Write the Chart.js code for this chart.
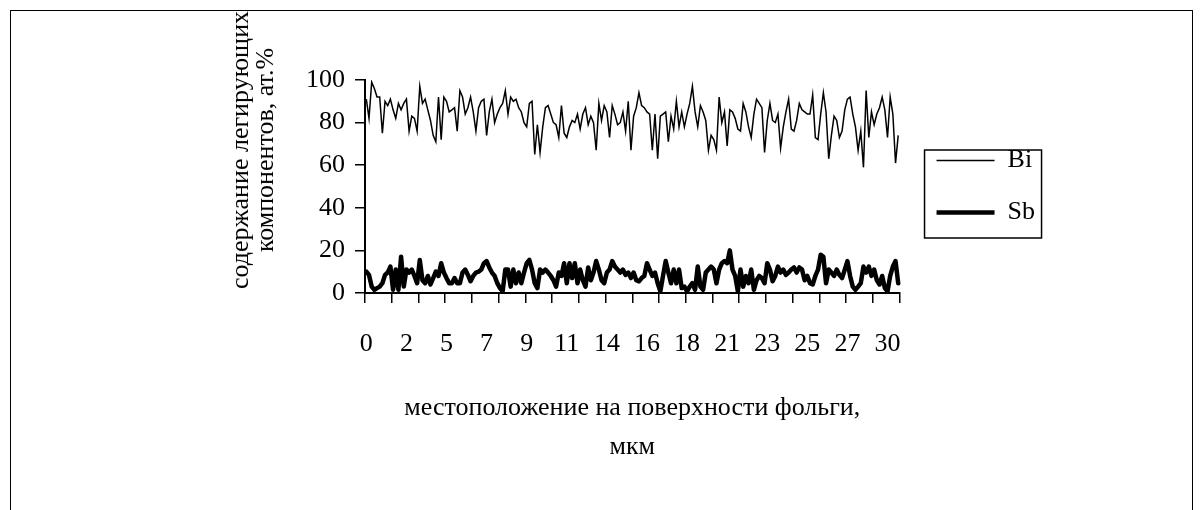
<!DOCTYPE html>
<html>
<head>
<meta charset="utf-8">
<script src="https://cdn.jsdelivr.net/npm/chart.js@4.4.1/dist/chart.umd.min.js"></script>
<style>
  html, body { margin: 0; padding: 0; background: #fff; overflow: hidden; }
  #wrap { position: relative; width: 1203px; height: 510px; }
  #frame { position: absolute; left: 10px; top: 10px; width: 1181px; height: 560px; border: 1px solid #000; }
  #ytitle {
    position: absolute; left: 251.5px; top: 150px;
    transform: translate(-50%, -50%) rotate(-90deg);
    white-space: nowrap; text-align: center;
    font: 26px/25px "Liberation Serif", "Times New Roman", serif; color: #000;
  }
  canvas { position: absolute; left: 0; top: 0; }
</style>
</head>
<body>
<div id="wrap">
  <div id="frame"></div>
  <canvas id="chart" width="1203" height="510"></canvas>
  <div id="ytitle">содержание легирующих<br>компонентов, ат.%</div>
</div>
<script>
// Bi and Sb content along the foil (at.%)
const bi = [91,82,99,96,92,92,75,90,88,91,86,82,89,86,89,91,76,83,82,76,97,89,91,86,81,74,71,92,72,92,90,85,86,87,76,95,92,84,87,92,
  85,76,87,90,91,74,85,91,80,84,87,89,95,84,92,90,91,87,85,80,78,89,90,65,79,66,78,87,88,84,80,79,73,88,75,73,78,81,80,84,77,84,87,79,83,80,
  67,89,81,88,85,73,88,84,79,80,85,76,90,67,83,87,94,88,87,85,84,67,84,63,83,84,85,71,83,77,90,78,85,78,84,89,97,85,78,88,85,81,67,74,72,67,92,80,85,69,86,85,82,77,
  76,89,85,78,73,84,91,89,87,66,81,89,81,80,84,68,78,85,91,77,76,81,89,86,85,84,84,93,73,72,84,94,85,63,74,83,81,73,76,86,91,92,84,78,67,76,59,95,73,85,79,84,87,92,86,73,92,84,61,74];

const sb = [10,8.5,3,1.5,2.3,3,4.6,8.5,9.6,12.4,1.5,11,1.5,17,3,11,9.6,11,8,4.6,15.5,6,4.6,8,4,7,10,8,14,9.6,7,4.6,4.6,7,4.6,4.6,9.6,11,8.5,5.5,8,9.6,10,11,
  14,15,12,9.6,8,4.6,2.3,0.8,11,11,3,11,4.6,9.6,4.6,9.6,14,15.5,11,4.6,2.3,11,9.6,11,9.6,8,6,3,9.6,8,14,4.6,14,7,14,4.6,11,6,3,12,6,9.6,15,11,6,4.6,9.6,11,
  15,12.4,11,9.6,11,8.5,9.6,7,9.6,6,5.5,7,8,14,11,8,9.6,4.6,0.8,8,15,9.6,4.6,11,4.6,11,2.3,3,0.8,3,4.6,1.5,12.4,3,1.5,9.6,11,12.4,11,4.6,11,14,15,14,20,11,8,0.8,11,
  3,8,4.6,11,1.5,6,8,7,4.6,14,11,5.5,8,12.4,9.6,11,8.5,9.6,11,12,9.6,12,11,6,8,4.6,4,8,11,18,17,4.6,11,9.6,8,11,8.5,7,11,15,8,3,1.5,3,4.6,12.4,9.6,12.4,8,11,6,4,8,2.3,0.8,8,12.4,15,4.6];

// x axis: one label every 15 points, one tick mark every 10 points
const tickLabels = ['0','2','5','7','9','11','14','16','18','21','23','25','27','30'];
const LABEL_EVERY = 15;
const TICK_EVERY = 10;
const categories = bi.map((_, i) => i);

const FONT = '"Liberation Serif", "Times New Roman", serif';
Chart.defaults.font.family = FONT;
Chart.defaults.font.size = 26;
Chart.defaults.color = '#000';

// frame around the legend
const legendBox = {
  id: 'legendBox',
  afterDraw(chart) {
    const hb = chart.legend.legendHitBoxes;
    if (!hb || !hb.length) return;
    const ctx = chart.ctx;
    ctx.save();
    ctx.strokeStyle = '#000';
    ctx.lineWidth = 1.5;
    ctx.strokeRect(hb[0].left - 12, hb[0].top + 2.5, 117, 88);
    ctx.restore();
  }
};

new Chart(document.getElementById('chart'), {
  type: 'line',
  data: {
    labels: categories,
    datasets: [
      { label: 'Bi', data: bi, borderColor: '#000', borderWidth: 1.5, pointRadius: 0, tension: 0 },
      { label: 'Sb', data: sb, borderColor: '#000', borderWidth: 4.5, pointRadius: 0, tension: 0,
        borderJoinStyle: 'round', borderCapStyle: 'round' }
    ]
  },
  options: {
    responsive: false,
    animation: false,
    layout: { padding: { left: 0, top: 80, right: 158, bottom: 43.5 } },
    plugins: {
      tooltip: { enabled: false },
      legend: {
        position: 'right',
        fullSize: false,
        labels: {
          usePointStyle: true,
          pointStyle: 'line',
          pointStyleWidth: 58,
          padding: 26,
          color: '#000',
          font: { size: 26, family: FONT }
        }
      }
    },
    scales: {
      x: {
        type: 'category',
        offset: true,
        border: { color: '#000', width: 2 },
        grid: {
          offset: true,
          drawOnChartArea: false,
          tickLength: 10,
          lineWidth: 1.5,
          color: c => (c.index === undefined || c.index % TICK_EVERY === 0) ? '#000' : 'rgba(0,0,0,0)'
        },
        ticks: {
          autoSkip: false,
          maxRotation: 0,
          minRotation: 0,
          padding: 26,
          callback: (v, i) => i % LABEL_EVERY === 0 ? tickLabels[i / LABEL_EVERY] : ''
        },
        title: {
          display: true,
          text: ['местоположение на поверхности фольги,', 'мкм'],
          font: { size: 26, family: FONT, lineHeight: 1.5 },
          padding: 0
        },
        afterFit: s => { s.height = 173.5; }
      },
      y: {
        min: 0,
        max: 100,
        border: { color: '#000', width: 2 },
        grid: { drawOnChartArea: false, tickLength: 10, lineWidth: 1.5, color: '#000' },
        ticks: { stepSize: 20, padding: 10 },
        afterFit: s => { s.width = 365; }
      },
      spacer: {
        type: 'linear',
        position: 'right',
        grid: { display: false },
        ticks: { display: false },
        border: { display: false },
        afterFit: s => { s.width = 11; }
      }
    }
  },
  plugins: [legendBox]
});
</script>
</body>
</html>
